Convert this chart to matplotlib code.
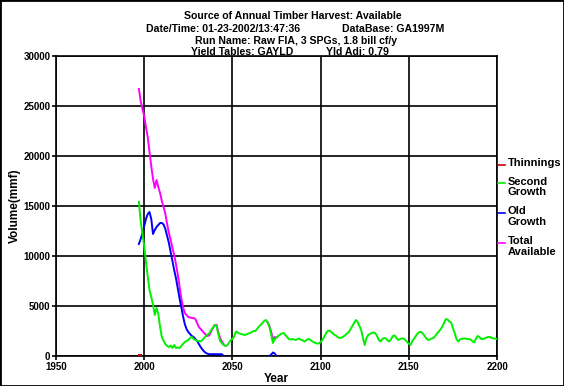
import numpy as np
import matplotlib
matplotlib.use('Agg')
import matplotlib.pyplot as plt
from matplotlib.lines import Line2D

plt.rcParams['font.family'] = ['Liberation Sans', 'DejaVu Sans']
plt.rcParams['font.weight'] = 'bold'
plt.rcParams['font.size'] = 7

# Total Available (magenta)
total_anos = list(range(1997, 2046)) + [2050] + list(range(2070, 2076))
total_vals = [26700, 25500, 24700, 24000, 22900, 21900, 20400, 19000, 17700, 16800,
              17600, 16900, 16300, 15500, 14900, 14200, 13200, 12300, 11600, 10800,
              10100, 9200, 8200, 7000, 5800, 4900, 4300, 4100, 3900, 3850,
              3800, 3800, 3700, 3300, 2900, 2700, 2500, 2300, 2100, 2000,
              2100, 2500, 2800, 3100, 3100, 2400, 1800, 1450, 1200] + [np.nan] + \
             [3350, 3000, 2400, 1650, 1900, 1850]

# Second Growth (green)
segundo_anos = list(range(1997, 2201))
segundo_vals = [15400, 13500, 12200, 11000, 9400, 8000, 6600, 5900, 5100, 4100,
                4800, 4200, 2900, 1900, 1500, 1200, 1000, 900, 1050, 800,
                1100, 800, 850, 800, 1000, 1200, 1400, 1500, 1600, 1800,
                1900, 1700, 1600, 1500, 1500, 1450, 1600, 1800, 2000, 2150,
                2300, 2600, 2850, 3100, 3000, 2200, 1500, 1300, 1100, 1000,
                1050, 1300, 1600, 1700, 1950, 2450, 2350, 2250, 2200, 2150,
                2100, 2150, 2250, 2300, 2400, 2500, 2500, 2700, 2950, 3100,
                3300, 3500, 3600, 3350, 2900, 2100, 1300, 1700, 1850, 2000,
                2150, 2250, 2300, 2100, 1900, 1700, 1650, 1700, 1650, 1600,
                1700, 1750, 1600, 1550, 1450, 1600, 1700, 1650, 1500, 1400,
                1300, 1250, 1250, 1400, 1600, 1900, 2250, 2500, 2550, 2400,
                2250, 2100, 2000, 1850, 1800, 1850, 1950, 2100, 2250, 2400,
                2700, 3000, 3300, 3600, 3400, 3000, 2600, 1800, 1100, 1800,
                2100, 2200, 2300, 2350, 2300, 2000, 1600, 1450, 1700, 1800,
                1750, 1550, 1450, 1700, 2000, 2050, 1800, 1600, 1700, 1750,
                1750, 1600, 1400, 1250, 1100, 1500, 1750, 2000, 2250, 2400,
                2400, 2250, 2000, 1750, 1600, 1650, 1750, 1800, 2000, 2250,
                2450, 2650, 2950, 3300, 3700, 3650, 3450, 3350, 2800, 2300,
                1700, 1450, 1650, 1700, 1750, 1750, 1700, 1700, 1650, 1500,
                1350, 1700, 2000, 1900, 1700, 1700, 1750, 1850, 1900, 1900,
                1800, 1750, 1750, 1700]

# Old Growth (blue)
velho_anos = list(range(1997, 2046)) + [2050] + [2071, 2072, 2073, 2074, 2075]
velho_vals = [11200, 11700, 12300, 13000, 13700, 14200, 14400, 13700, 12200, 12600,
              12900, 13100, 13300, 13300, 13150, 12700, 12000, 11300, 10400, 9500,
              8600, 7800, 6800, 5800, 4900, 4000, 3200, 2700, 2400, 2200,
              2000, 1900, 1700, 1500, 1200, 900, 650, 450, 300, 220,
              180, 180, 180, 180, 180, 180, 180, 180, 0] + [np.nan] + \
             [0, 150, 350, 250, 0]

# Thinnings (red)
desbaste_anos = [1997, 1998]
desbaste_vals = [100, 100]

W, H = 564, 386
fig = plt.figure(figsize=(W / 100, H / 100), dpi=100)
ax = fig.add_axes([56 / W, 1 - 356 / H, (497 - 56) / W, 300 / H])

ax.plot(total_anos, total_vals, color='#ff00ff', lw=1.4, zorder=3)
ax.plot(velho_anos, velho_vals, color='#0000ff', lw=1.4, zorder=4)
ax.plot(segundo_anos, segundo_vals, color='#00f000', lw=1.4, zorder=5)
ax.plot(desbaste_anos, desbaste_vals, color='#cc0000', lw=1.4, zorder=6)

ax.set_xlim(1950, 2200)
ax.set_ylim(0, 30000)
ax.set_xticks(range(1950, 2201, 50))
ax.set_yticks(range(0, 30001, 5000))
ax.grid(True, color='black', lw=1.2)
ax.tick_params(direction='out', length=3, width=1.2, pad=1, labelsize=7)
for s in ax.spines.values():
    s.set_linewidth(1.2)
ax.set_xlabel('Year', fontsize=8.5, fontweight='bold', labelpad=1)
ax.set_ylabel('Volume(mmf)', fontsize=8.5, fontweight='bold', labelpad=2)

def fx(x):
    return x / W

def fy(y):
    return 1 - y / H

fs = 7.6
fig.text(fx(293), fy(16), 'Source of Annual Timber Harvest: Available', ha='center', va='center', fontsize=fs)
fig.text(fx(146), fy(29), 'Date/Time: 01-23-2002/13:47:36', ha='left', va='center', fontsize=fs)
fig.text(fx(342), fy(29), 'DataBase: GA1997M', ha='left', va='center', fontsize=fs)
fig.text(fx(296), fy(41), 'Run Name: Raw FIA, 3 SPGs, 1.8 bill cf/y', ha='center', va='center', fontsize=fs)
fig.text(fx(191), fy(52), 'Yield Tables: GAYLD', ha='left', va='center', fontsize=fs)
fig.text(fx(326), fy(52), 'Yld Adj: 0.79', ha='left', va='center', fontsize=fs)

# legenda manual
legenda = [('Thinnings', '#cc0000', 165), ('Second\nGrowth', '#00f000', 183),
           ('Old\nGrowth', '#0000ff', 213), ('Total\nAvailable', '#ff00ff', 243)]
for texto, cor, y in legenda:
    fig.add_artist(Line2D([fx(498), fx(505)], [fy(y), fy(y)], color=cor, lw=1.2))
    fig.text(fx(508), fy(y - 6.5), texto, ha='left', va='top', linespacing=1.05, fontsize=8)

fig.add_artist(plt.Rectangle((0, 0), 1, 1, transform=fig.transFigure, fill=False,
                             edgecolor='black', lw=2))

fig.savefig('out.png', dpi=100)
